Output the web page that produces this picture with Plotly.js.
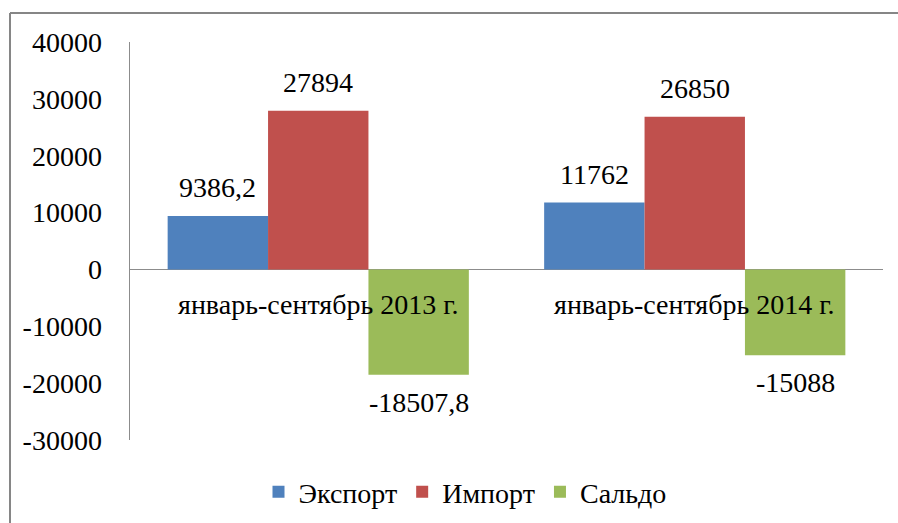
<!DOCTYPE html>
<html>
<head>
<meta charset="utf-8">
<script src="https://cdn.plot.ly/plotly-3.0.1.min.js"></script>
<style>
  html, body { margin: 0; padding: 0; background: #fff; }
  #chart { width: 898px; height: 523px; }
</style>
</head>
<body>
<div id="chart"></div>
<script>
const categories = ['январь-сентябрь 2013 г.', 'январь-сентябрь 2014 г.'];
const seriesNames = ['Экспорт', 'Импорт', 'Сальдо'];
const exportValues = [9386.2, 11762];
const importValues = [27894, 26850];
const saldoValues = [-18507.8, -15088];
const yTickValues = [-30000, -20000, -10000, 0, 10000, 20000, 30000, 40000];
const yTickLabels = ['-30000', '-20000', '-10000', '0', '10000', '20000', '30000', '40000'];

const colors = ['#4F81BD', '#C0504D', '#9BBB59'];
const FONT = 'Liberation Serif';
const FS = 28;
const BARGAP = 0.2;

const allSeries = [exportValues, importValues, saldoValues];

const traces = allSeries.map((vals, j) => ({
  type: 'bar',
  name: seriesNames[j],
  x: categories,
  y: vals,
  marker: { color: colors[j], line: { width: 0 } },
  hoverinfo: 'none'
}));

const fmt = v => String(v).replace('.', ',');
const annotations = [];
const groupW = (1 - BARGAP) / allSeries.length;
allSeries.forEach((vals, j) => {
  vals.forEach((v, i) => {
    annotations.push({
      x: i + (j - (allSeries.length - 1) / 2) * groupW,
      y: v,
      xref: 'x', yref: 'y',
      text: fmt(v),
      showarrow: false,
      yanchor: v >= 0 ? 'bottom' : 'top',
      yshift: v >= 0 ? 11 : -10,
      font: { family: FONT, size: FS, color: '#000' }
    });
  });
});
categories.forEach((c, i) => {
  annotations.push({
    x: i, y: 0, xref: 'x', yref: 'y',
    text: c, showarrow: false,
    yanchor: 'top', yshift: -18,
    font: { family: FONT, size: FS, color: '#000' }
  });
});

const L = 130, R = 15, T = 42, B = 83, W = 898, H = 523;
const pw = W - L - R, ph = H - T - B;
const px = x => (x - L) / pw;
const py = y => (H - B - y) / ph;

const layout = {
  width: W, height: H,
  margin: { l: L, r: R, t: T, b: B, pad: 0, autoexpand: false },
  paper_bgcolor: '#fff', plot_bgcolor: '#fff',
  barmode: 'group', bargap: BARGAP, bargroupgap: 0,
  font: { family: FONT, size: FS, color: '#000' },
  xaxis: {
    type: 'category', showticklabels: false, showline: false,
    showgrid: false, zeroline: false, ticks: '', fixedrange: true
  },
  yaxis: {
    range: [-30000, 40000], tickvals: yTickValues, ticktext: yTickLabels,
    showgrid: false, zeroline: true, zerolinecolor: '#8C8C8C', zerolinewidth: 1.5,
    showline: true, linecolor: '#8C8C8C', linewidth: 1.5,
    ticks: '', ticklabelstandoff: 21, automargin: false,
    tickfont: { family: FONT, size: FS, color: '#000' }, fixedrange: true
  },
  legend: {
    orientation: 'h', x: px(465), xanchor: 'center', y: py(492), yanchor: 'middle',
    font: { family: FONT, size: FS, color: '#000' }, bgcolor: 'rgba(0,0,0,0)',
    traceorder: 'normal', itemwidth: 30
  },
  annotations: annotations,
  shapes: [
    { type: 'line', xref: 'paper', yref: 'paper', x0: px(10), x1: px(898), y0: py(13), y1: py(13),
      line: { color: '#868686', width: 2 } },
    { type: 'line', xref: 'paper', yref: 'paper', x0: px(10), x1: px(10), y0: py(13), y1: py(523),
      line: { color: '#868686', width: 2 } }
  ],
  showlegend: true
};

Plotly.newPlot('chart', traces, layout, { displayModeBar: false, staticPlot: true });
</script>
</body>
</html>
